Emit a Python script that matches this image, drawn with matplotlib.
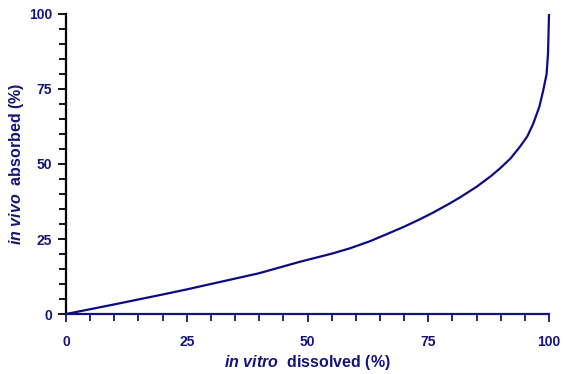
import numpy as np
import matplotlib
matplotlib.use("Agg")
import matplotlib.pyplot as plt
from matplotlib.ticker import MultipleLocator

fuente = "Liberation Sans"
plt.rcParams["font.family"] = fuente
plt.rcParams["mathtext.fontset"] = "custom"
plt.rcParams["mathtext.it"] = fuente + ":italic:bold"
plt.rcParams["mathtext.rm"] = fuente + ":bold"

# Curva de correlación in vitro / in vivo
disuelto = [0, 10, 20, 25, 30, 40, 48.4, 55, 58.8, 63, 67.1, 70, 73.3, 76,
            79.5, 81.6, 85, 88, 89.9, 92, 94, 95.5, 96.7, 98, 98.8, 99.5,
            99.8, 100]
absorbido = [0, 3.2, 6.5, 8.2, 10, 13.6, 17.4, 20.1, 21.9, 24.3, 27.1, 29.1,
             31.6, 33.8, 36.9, 38.9, 42.4, 46.0, 48.6, 51.8, 55.8, 59.2, 63.3,
             69.1, 74.5, 80, 87, 100]

xticks = [0, 25, 50, 75, 100]
yticks = [0, 25, 50, 75, 100]

azul = "#14147a"

fig = plt.figure(figsize=(5.65, 3.74), dpi=100)
ax = fig.add_axes([0.1168, 0.1604, 0.8549, 0.8022])

ax.plot(disuelto, absorbido, color="#0c0c82", lw=1.6, solid_capstyle="butt",
        solid_joinstyle="round", clip_on=False, zorder=3)

ax.set_xlim(0, 100)
ax.set_ylim(0, 100)
ax.set_xticks(xticks)
ax.set_yticks(yticks)
ax.xaxis.set_minor_locator(MultipleLocator(5))
ax.yaxis.set_minor_locator(MultipleLocator(5))

for s in ["top", "right"]:
    ax.spines[s].set_visible(False)
ax.spines["left"].set_color("black")
ax.spines["left"].set_linewidth(1.6)
ax.spines["bottom"].set_color(azul)
ax.spines["bottom"].set_linewidth(1.6)

ax.tick_params(axis="x", which="both", direction="out", color=azul, width=1.3,
               labelcolor=azul, labelsize=10, pad=9)
ax.tick_params(axis="x", which="major", length=6)
ax.tick_params(axis="x", which="minor", length=5)
ax.tick_params(axis="y", which="both", direction="out", color="black", width=1.3,
               labelcolor=azul, labelsize=10, pad=4)
ax.tick_params(axis="y", which="major", length=6)
ax.tick_params(axis="y", which="minor", length=5)
for lab in ax.get_xticklabels() + ax.get_yticklabels():
    lab.set_fontweight("bold")

ax.set_xlabel(r"$\mathit{in\ vitro}$  dissolved (%)", fontsize=11.5,
              fontweight="bold", color=azul, labelpad=3)
ax.set_ylabel(r"$\mathit{in\ vivo}$  absorbed (%)", fontsize=11.5,
              fontweight="bold", color=azul, labelpad=2)

fig.savefig("out.png", dpi=100)
